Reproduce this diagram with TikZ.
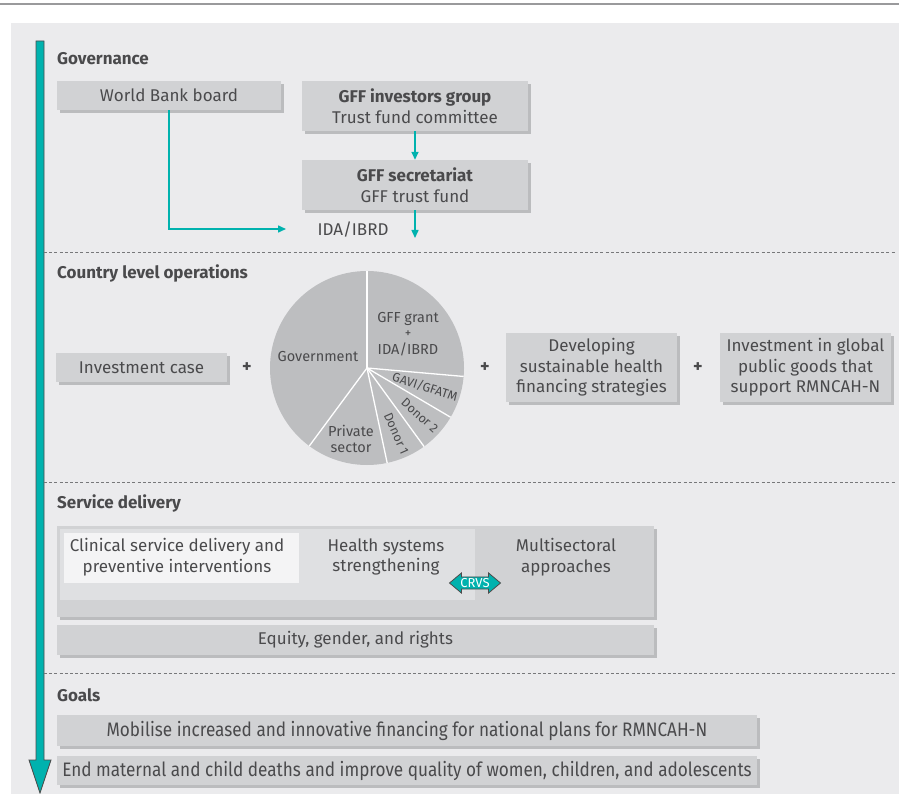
\documentclass[tikz,border=0pt]{standalone}
\usepackage{fontspec}
\setmainfont{Fira Sans}
\newfontfamily\condfont[FakeStretch=0.88]{Fira Sans}
\usetikzlibrary{arrows.meta,shadows,shapes.arrows}
\definecolor{panelc}{HTML}{EBEBED}
\definecolor{boxc}{HTML}{D1D2D4}
\definecolor{shadc}{HTML}{BBBCBE}
\definecolor{midc}{HTML}{DFE0E2}
\definecolor{lightc}{HTML}{F4F4F5}
\definecolor{piec}{HTML}{BDBEC0}
\definecolor{tealc}{HTML}{00B2AE}
\definecolor{txtc}{HTML}{4A4A4C}
\definecolor{dashc}{HTML}{77787A}
\definecolor{rulec}{HTML}{9A9A9C}
\tikzset{
  gbox/.style={fill=boxc, text=txtc, align=center, inner sep=0pt,
    font=\fontsize{17}{20.5}\selectfont,
    drop shadow={shadow xshift=3pt, shadow yshift=-3pt, fill=shadc, opacity=1}},
  plainbox/.style={fill=#1, inner sep=0pt},
  lbl/.style={text=txtc, align=center, inner sep=0pt, font=\fontsize{17}{20.5}\selectfont},
  title/.style={text=txtc, anchor=west, inner sep=0pt, font=\fontsize{17}{20}\selectfont\bfseries},
  plus/.style={text=txtc, inner sep=0pt, font=\fontsize{18}{20}\selectfont\bfseries},
  pielbl/.style={text=txtc, align=center, inner sep=0pt, font=\fontsize{14.5}{15.5}\selectfont},
  smallpie/.style={pielbl, font=\fontsize{12.5}{14}\selectfont},
  conn/.style={draw=tealc, line width=1.5pt, -{Triangle[width=7pt,length=8pt]}},
  sep/.style={draw=dashc, line width=1pt, dash pattern=on 3pt off 2.2pt},
  goalbox/.style={gbox, font=\fontsize{19.5}{22}\condfont},
}
\begin{document}
\begin{tikzpicture}[x=1pt,y=1pt]
\useasboundingbox (0,0) rectangle (899,-794);
% frame
\draw[rulec, line width=1.5pt] (0,-4) -- (899,-4);
\fill[panelc] (11,-23) rectangle (899,-794);
% main teal arrow
\filldraw[fill=tealc, draw=black!70, line width=0.8pt]
  (36,-41) -- (44,-41) -- (44,-760) -- (51,-760) -- (40,-793) -- (29,-760) -- (36,-760) -- cycle;
% separators
\draw[sep] (44,-253) -- (896,-253);
\draw[sep] (44,-482) -- (896,-482);
\draw[sep] (44,-673) -- (896,-673);
% titles
\node[title] (tgov) at (57,-59) {Governance};
\node[title] (tcountry) at (57,-273) {Country level operations};
\node[title] (tservice) at (57,-503) {Service delivery};
\node[title] (tgoals) at (57,-695) {Goals};
% governance
\node[gbox, minimum width=224pt, minimum height=29pt] (wb) at (169,-95.5) {World Bank board};
\node[gbox, minimum width=226pt, minimum height=50pt] (gffinv) at (415,-106) {\textbf{GFF investors group}\\Trust fund committee};
\node[gbox, minimum width=226pt, minimum height=50pt] (gffsec) at (415,-185) {\textbf{GFF secretariat}\\GFF trust fund};
\coordinate (secend) at (415,-238);
\coordinate (wbend) at (286,-229);
\node[lbl] (ida) at (353,-230) {IDA/IBRD};
\draw[conn] (gffinv.south) -- (gffsec.north);
\draw[conn] (gffsec.south) -- (secend);
\draw[conn] (wb.south) |- (wbend);
% country level
\node[gbox, minimum width=171pt, minimum height=29pt] (invcase) at (141.5,-367.5) {Investment case};
\node[plus] (p1) at (247,-368) {+};
\node[plus] (p2) at (485,-368) {+};
\node[plus] (p3) at (698,-368) {+};
\node[gbox, minimum width=171pt, minimum height=69pt] (develop) at (591.5,-367.5) {Developing\\sustainable health\\financing strategies};
\node[gbox, minimum width=171pt, minimum height=69pt] (global) at (805.5,-367.5) {Investment in global\\public goods that\\support RMNCAH-N};
% pie
\begin{scope}[shift={(367,-368)}]
  \fill[piec] (0,0) circle (97);
  \foreach \a in {90,-5,-30.5,-54,-78,-126.5}
    \draw[white, line width=1.3pt] (0,0) -- (\a:97);
  \node[pielbl] (gffgrant) at (41,49) {GFF grant};
  \node[pielbl, font=\fontsize{13}{13}\selectfont] (gffplus) at (41,34) {+};
  \node[pielbl] (gffida) at (41,19) {IDA/IBRD};
  \node[pielbl] (govt) at (-49,11) {Government};
  \node[smallpie, rotate=-18] (gavi) at (-18:61) {GAVI/GFATM};
  \node[smallpie, rotate=-42] (donor2) at (-42:71) {Donor 2};
  \node[smallpie, rotate=-66] (donor1) at (-66:72) {Donor 1};
  \node[pielbl] (private) at (-16,-71) {Private\\sector};
\end{scope}
% service delivery
\node[gbox, minimum width=597pt, minimum height=91pt] (outer) at (355.5,-571.5) {};
\node[plainbox=midc, minimum width=415pt, minimum height=71pt] (hss) at (267.5,-564.5) {};
\node[plainbox=lightc, minimum width=235pt, minimum height=50pt] (clinbox) at (181.5,-558) {};
\node[lbl] (clin) at (177,-557) {Clinical service delivery and\\preventive interventions};
\node[lbl] (hsstext) at (386,-557) {Health systems\\strengthening};
\node[lbl] (multi) at (566,-557) {Multisectoral\\approaches};
\node[double arrow, fill=tealc, draw=black!70, line width=0.8pt, text=white,
  font=\fontsize{13}{13}\selectfont, inner sep=1pt, minimum height=51pt,
  double arrow head extend=4pt, double arrow tip angle=80] (crvs) at (475,-583) {CRVS};
\node[gbox, minimum width=597pt, minimum height=30pt] (equity) at (355.5,-640) {Equity, gender, and rights};
% goals
\node[goalbox, minimum width=700pt, minimum height=31pt] (mob) at (407,-730.5) {Mobilise increased and innovative financing for national plans for RMNCAH-N};
\node[goalbox, minimum width=700pt, minimum height=29pt] (endm) at (407,-770.5) {End maternal and child deaths and improve quality of women, children, and adolescents};
\end{tikzpicture}
\end{document}
